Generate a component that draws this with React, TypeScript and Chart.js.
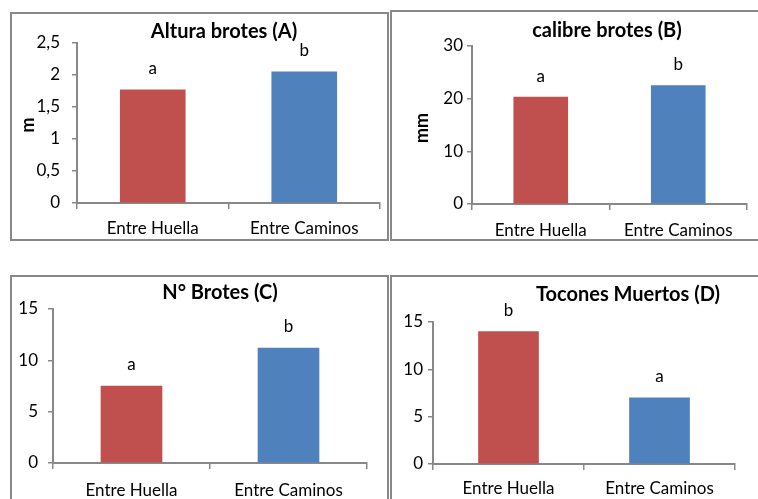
import React, { useEffect, useRef } from "react";
import { Chart, registerables } from "chart.js";

Chart.register(...registerables);

// Shared categories and bar colours
const categories = ["Entre Huella", "Entre Caminos"];
const barColors = ["#C0504D", "#4F81BD"];

// (A) Altura brotes, metres
const alturaValues = [1.77, 2.05];
const alturaLetters = ["a", "b"];
const alturaTicks = [0, 0.5, 1, 1.5, 2, 2.5];

// (B) calibre brotes, millimetres
const calibreValues = [20.3, 22.5];
const calibreLetters = ["a", "b"];
const calibreTicks = [0, 10, 20, 30];

// (C) N° Brotes
const brotesValues = [7.5, 11.2];
const brotesLetters = ["a", "b"];
const brotesTicks = [0, 5, 10, 15];

// (D) Tocones Muertos
const toconesValues = [14.0, 7.0];
const toconesLetters = ["b", "a"];
const toconesTicks = [0, 5, 10, 15];

const FONT = "Lato, 'DejaVu Sans', sans-serif";
const TEXT_SIZE = 17;
const TITLE_SIZE = 20;
const AXIS_GRAY = "#888888";
const FRAME_BORDER = 2;

type Rect = { left: number; top: number; width: number; height: number };
type Area = { left: number; right: number; top: number; bottom: number };

type PanelProps = {
  frame: Rect;
  area: Area;
  title: string;
  titleAt: [number, number];
  yTitle?: string;
  yTitleAt?: [number, number];
  values: number[];
  letters: string[];
  ticks: number[];
  barWidth: number;
  yPad: number;
  xPad: number;
};

function Panel(p: PanelProps) {
  const ref = useRef<HTMLCanvasElement | null>(null);
  const ox = p.frame.left + FRAME_BORDER;
  const oy = p.frame.top + FRAME_BORDER;
  const cw = p.frame.width - 2 * FRAME_BORDER;
  const ch = p.frame.height - 2 * FRAME_BORDER;

  useEffect(() => {
    if (!ref.current) return;
    const yWidth = p.area.left - ox;
    const xHeight = ch - (p.area.bottom - oy);

    // significance letters above bars, panel title and rotated unit label
    const annotate = {
      id: "annotate",
      afterDatasetsDraw(chart: any) {
        const ctx = chart.ctx as CanvasRenderingContext2D;
        const meta = chart.getDatasetMeta(0);
        ctx.save();
        ctx.fillStyle = "#000000";
        ctx.textAlign = "center";
        ctx.textBaseline = "middle";
        ctx.font = `${TEXT_SIZE}px ${FONT}`;
        meta.data.forEach((bar: any, i: number) => {
          ctx.fillText(p.letters[i], bar.x, bar.y - 21);
        });
        ctx.font = `bold ${TITLE_SIZE}px ${FONT}`;
        ctx.fillText(p.title, p.titleAt[0] - ox, p.titleAt[1] - oy);
        if (p.yTitle && p.yTitleAt) {
          ctx.translate(p.yTitleAt[0] - ox, p.yTitleAt[1] - oy);
          ctx.rotate(-Math.PI / 2);
          ctx.font = `bold 18px ${FONT}`;
          ctx.fillText(p.yTitle, 0, 0);
        }
        ctx.restore();
      },
    };

    const chart = new Chart(ref.current, {
      type: "bar",
      data: {
        labels: categories,
        datasets: [
          {
            data: p.values,
            backgroundColor: barColors,
            borderWidth: 0,
            barThickness: p.barWidth,
          },
        ],
      },
      options: {
        responsive: false,
        animation: false,
        events: [],
        layout: {
          padding: {
            left: 0,
            top: p.area.top - oy,
            right: cw - (p.area.right - ox),
            bottom: 0,
          },
        },
        plugins: {
          legend: { display: false },
          title: { display: false },
          tooltip: { enabled: false },
        },
        scales: {
          x: {
            offset: true,
            grid: {
              offset: true,
              drawOnChartArea: false,
              drawTicks: true,
              tickLength: 6,
              color: AXIS_GRAY,
              lineWidth: 1.5,
            },
            border: { display: true, color: AXIS_GRAY, width: 2 },
            ticks: {
              color: "#000000",
              font: { family: FONT, size: TEXT_SIZE },
              padding: p.xPad,
              maxRotation: 0,
              autoSkip: false,
            },
            afterFit(scale: any) {
              scale.height = xHeight;
            },
          },
          y: {
            min: p.ticks[0],
            max: p.ticks[p.ticks.length - 1],
            grid: {
              drawOnChartArea: false,
              drawTicks: true,
              tickLength: 5,
              color: AXIS_GRAY,
              lineWidth: 1.5,
            },
            border: { display: true, color: AXIS_GRAY, width: 2 },
            ticks: {
              stepSize: p.ticks[1] - p.ticks[0],
              color: "#000000",
              font: { family: FONT, size: TEXT_SIZE },
              padding: p.yPad,
              callback: (v: any) => String(v).replace(".", ","),
            },
            afterFit(scale: any) {
              scale.width = yWidth;
            },
          },
        },
      },
      plugins: [annotate],
    });
    return () => chart.destroy();
  }, []);

  return (
    <div
      style={{
        position: "absolute",
        left: p.frame.left,
        top: p.frame.top,
        width: p.frame.width,
        height: p.frame.height,
        border: `${FRAME_BORDER}px solid ${AXIS_GRAY}`,
        boxSizing: "border-box",
        background: "#ffffff",
      }}
    >
      <canvas
        ref={ref}
        width={cw}
        height={ch}
        style={{ position: "absolute", left: 0, top: 0, width: cw, height: ch }}
      />
    </div>
  );
}

export default function App() {
  return (
    <div
      style={{
        position: "fixed",
        left: 0,
        top: 0,
        width: 758,
        height: 499,
        overflow: "hidden",
        background: "#ffffff",
      }}
    >
      <Panel
        frame={{ left: 10, top: 12, width: 379, height: 229 }}
        area={{ left: 77, right: 380, top: 43, bottom: 203 }}
        title="Altura brotes (A)"
        titleAt={[224, 32]}
        yTitle="m"
        yTitleAt={[28, 125]}
        values={alturaValues}
        letters={alturaLetters}
        ticks={alturaTicks}
        barWidth={65}
        yPad={12}
        xPad={9}
      />
      <Panel
        frame={{ left: 390, top: 10, width: 372, height: 231 }}
        area={{ left: 472, right: 747, top: 46, bottom: 204 }}
        title="calibre brotes (B)"
        titleAt={[607, 31]}
        yTitle="mm"
        yTitleAt={[422, 128]}
        values={calibreValues}
        letters={calibreLetters}
        ticks={calibreTicks}
        barWidth={54}
        yPad={4}
        xPad={10}
      />
      <Panel
        frame={{ left: 10, top: 275, width: 379, height: 230 }}
        area={{ left: 53, right: 367, top: 309, bottom: 463 }}
        title="N° Brotes (C)"
        titleAt={[220, 293]}
        values={brotesValues}
        letters={brotesLetters}
        ticks={brotesTicks}
        barWidth={61}
        yPad={10}
        xPad={11}
      />
      <Panel
        frame={{ left: 390, top: 275, width: 372, height: 230 }}
        area={{ left: 433, right: 735, top: 322, bottom: 464 }}
        title="Tocones Muertos (D)"
        titleAt={[628, 295]}
        values={toconesValues}
        letters={toconesLetters}
        ticks={toconesTicks}
        barWidth={60}
        yPad={5}
        xPad={8}
      />
    </div>
  );
}
